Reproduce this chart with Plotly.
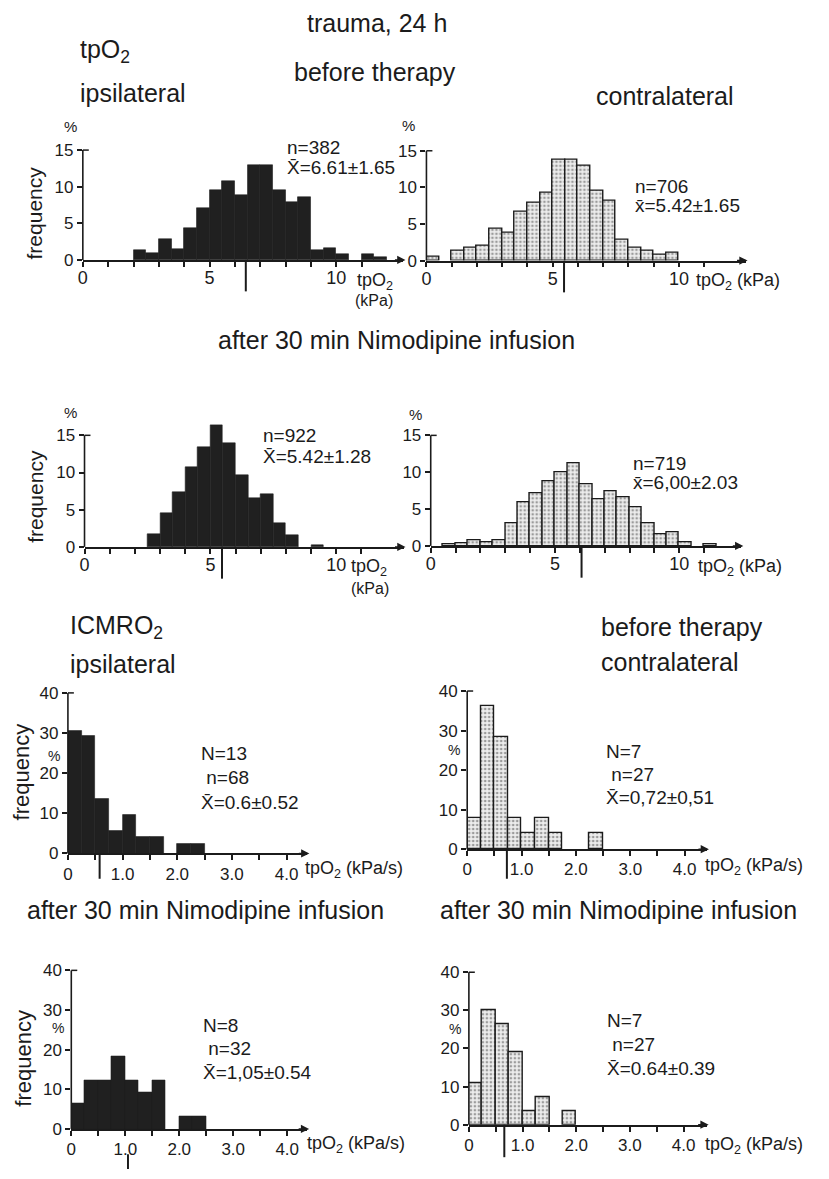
import plotly.graph_objects as go

W, H = 829, 1179
FONT = "Liberation Sans"
INK = "#1b1b1b"

# ---------------- data ----------------
# tpO2 histograms: bin lower edges (kPa, bin width 0.5) and frequency (%)
p1_edges = [2.0, 2.5, 3.0, 3.5, 4.0, 4.5, 5.0, 5.5, 6.0, 6.5, 7.0, 7.5, 8.0, 8.5, 9.0, 9.5, 10.0, 10.5, 11.0, 11.5]
p1_freq = [1.3, 0.9, 2.8, 1.5, 4.4, 7.1, 9.5, 10.7, 8.8, 13.0, 13.0, 9.5, 7.9, 8.6, 1.3, 1.6, 0.8, 0.0, 0.8, 0.4]

p2_edges = [0.0, 0.5, 1.0, 1.5, 2.0, 2.5, 3.0, 3.5, 4.0, 4.5, 5.0, 5.5, 6.0, 6.5, 7.0, 7.5, 8.0, 8.5, 9.0, 9.5]
p2_freq = [0.5, 0.0, 1.3, 1.8, 2.0, 4.4, 3.8, 6.7, 7.9, 9.3, 13.8, 13.8, 12.9, 9.6, 8.2, 2.9, 1.8, 1.3, 0.8, 1.0]

p3_edges = [2.5, 3.0, 3.5, 4.0, 4.5, 5.0, 5.5, 6.0, 6.5, 7.0, 7.5, 8.0, 8.5, 9.0]
p3_freq = [1.7, 4.5, 7.3, 10.7, 13.4, 16.3, 13.9, 9.7, 6.5, 7.1, 3.2, 1.6, 0.0, 0.2]

p4_edges = [0.5, 1.0, 1.5, 2.0, 2.5, 3.0, 3.5, 4.0, 4.5, 5.0, 5.5, 6.0, 6.5, 7.0, 7.5, 8.0, 8.5, 9.0, 9.5, 10.0, 10.5, 11.0]
p4_freq = [0.2, 0.3, 0.8, 0.5, 0.7, 3.0, 5.9, 7.1, 8.8, 10.0, 11.2, 8.4, 6.3, 7.4, 6.6, 5.3, 3.1, 1.6, 1.9, 0.5, 0.0, 0.2]

# ICMRO2 histograms: bin lower edges (kPa/s, bin width 0.25) and frequency (%)
p5_edges = [0.0, 0.25, 0.5, 0.75, 1.0, 1.25, 1.5, 1.75, 2.0, 2.25]
p5_freq = [30.5, 29.2, 13.5, 5.7, 9.6, 4.2, 4.2, 0.0, 2.3, 2.3]

p6_edges = [0.0, 0.25, 0.5, 0.75, 1.0, 1.25, 1.5, 1.75, 2.0, 2.25]
p6_freq = [7.9, 36.1, 28.4, 7.9, 4.1, 7.9, 4.1, 0.0, 0.0, 4.1]

p7_edges = [0.0, 0.25, 0.5, 0.75, 1.0, 1.25, 1.5, 1.75, 2.0, 2.25]
p7_freq = [6.4, 12.2, 12.2, 18.4, 12.2, 9.3, 12.2, 0.0, 3.1, 3.1]

p8_edges = [0.0, 0.25, 0.5, 0.75, 1.0, 1.25, 1.5, 1.75]
p8_freq = [10.8, 30.1, 26.4, 18.9, 3.6, 7.3, 0.0, 3.6]

# position of the mean marker drawn under each x axis
mean_marks = [6.43, 5.45, 5.46, 6.07, 0.58, 0.73, 1.05, 0.66]

stat_texts = [
    ["n=382", "X̄=6.61±1.65"],
    ["n=706", "x̄=5.42±1.65"],
    ["n=922", "X̄=5.42±1.28"],
    ["n=719", "x̄=6,00±2.03"],
    ["N=13", " n=68", "X̄=0.6±0.52"],
    ["N=7", " n=27", "X̄=0,72±0,51"],
    ["N=8", " n=32", "X̄=1,05±0.54"],
    ["N=7", " n=27", "X̄=0.64±0.39"],
]

tp_tickvals = [0, 1, 2, 3, 4, 5, 6, 7, 8, 9, 10, 11]
tp_ticktext = ["0", "", "", "", "", "5", "", "", "", "", "10", ""]
cm_tickvals = [0, 0.5, 1.0, 1.5, 2.0, 2.5, 3.0, 3.5, 4.0]
cm_ticktext = ["0", "", "1.0", "", "2.0", "", "3.0", "", "4.0"]
tp_yticks = [0, 5, 10, 15]
cm_yticks = [0, 10, 20, 30, 40]

# ---------------- geometry (pixels) ----------------
panels = [
    dict(edges=p1_edges, freq=p1_freq, bw=0.5, ipsi=True, x0=78.3, xs=25.5, xmax=12.65, y0=255.0, ys=7.44,
         ymax=16.5, ytop=15, m=(255, 287), stat=(282, 145, 20)),
    dict(edges=p2_edges, freq=p2_freq, bw=0.5, ipsi=False, x0=424.0, xs=25.4, xmax=12.64, y0=255.7, ys=7.44,
         ymax=16.5, ytop=15, m=(256, 288), stat=(632, 184, 20)),
    dict(edges=p3_edges, freq=p3_freq, bw=0.5, ipsi=True, x0=80.0, xs=25.33, xmax=12.67, y0=546.7, ys=7.56,
         ymax=16.5, ytop=15, m=(547, 579), stat=(258, 437, 22)),
    dict(edges=p4_edges, freq=p4_freq, bw=0.5, ipsi=False, x0=428.3, xs=25.0, xmax=12.5, y0=545.7, ys=7.49,
         ymax=16.5, ytop=15, m=(546, 578), stat=(630, 466, 19)),
    dict(edges=p5_edges, freq=p5_freq, bw=0.25, ipsi=True, x0=63.3, xs=55.0, xmax=4.38, y0=858.3, ys=4.08,
         ymax=40, ytop=40, m=(858, 884), stat=(195, 761, 24.5)),
    dict(edges=p6_edges, freq=p6_freq, bw=0.25, ipsi=False, x0=465.0, xs=54.7, xmax=4.41, y0=854.0, ys=4.02,
         ymax=40, ytop=40, m=(854, 884), stat=(603, 759, 23)),
    dict(edges=p7_edges, freq=p7_freq, bw=0.25, ipsi=True, x0=66.7, xs=54.3, xmax=4.37, y0=1138.3, ys=4.03,
         ymax=40, ytop=40, m=(1164, 1179), stat=(197, 1037, 24)),
    dict(edges=p8_edges, freq=p8_freq, bw=0.25, ipsi=False, x0=466.7, xs=54.0, xmax=4.43, y0=1134.0, ys=3.875,
         ymax=40, ytop=40, m=(1134, 1167), stat=(604, 1032, 24.5)),
]

DY = -4  # optical correction: annotation box centre vs glyph centre


def PX(px):
    return px / W


def PY(py):
    return 1 - py / H


fig = go.Figure()
layout = dict(
    width=W, height=H, margin=dict(l=0, r=0, t=0, b=0),
    paper_bgcolor="white", plot_bgcolor="rgba(0,0,0,0)",
    showlegend=False, font=dict(family=FONT, color=INK),
    bargap=0,
)
shapes = []
annotations = []

for i, p in enumerate(panels, start=1):
    xa = "x" if i == 1 else f"x{i}"
    ya = "y" if i == 1 else f"y{i}"
    vals = [(e + p["bw"] / 2, f) for e, f in zip(p["edges"], p["freq"]) if f > 0]
    xs_ = [v[0] for v in vals]
    ys_ = [v[1] for v in vals]
    if p["ipsi"]:
        marker = dict(color="#202020", line=dict(color="#202020", width=0.6))
    else:
        marker = dict(color="#e9e9e9",
                      pattern=dict(shape=".", fgcolor="#4a4a4a", bgcolor="#ededed", size=4, solidity=0.35),
                      line=dict(color=INK, width=1.4))
    fig.add_trace(go.Bar(x=xs_, y=ys_, width=[p["bw"]] * len(xs_), marker=marker,
                         xaxis=xa, yaxis=ya, hoverinfo="skip"))

    tp = i <= 4
    xdom = [PX(p["x0"]), PX(p["x0"] + p["xmax"] * p["xs"])]
    ydom = [PY(p["y0"]), PY(p["y0"] - p["ymax"] * p["ys"])]
    layout["xaxis" if i == 1 else f"xaxis{i}"] = dict(
        domain=xdom, range=[0, p["xmax"]], anchor=ya, showgrid=False, zeroline=False,
        showline=True, linecolor=INK, linewidth=1.6,
        ticks="outside", ticklen=5, tickwidth=1.5, tickcolor=INK,
        tickvals=tp_tickvals if tp else cm_tickvals,
        ticktext=tp_ticktext if tp else cm_ticktext,
        tickfont=dict(size=18 if tp else 17, family=FONT, color=INK),
        ticklabelstandoff=-4 if tp else -1, fixedrange=True,
    )
    layout["yaxis" if i == 1 else f"yaxis{i}"] = dict(
        domain=ydom, range=[0, p["ymax"]], anchor=xa, showgrid=False, zeroline=False,
        showline=False, ticks="outside", ticklen=5, tickwidth=1.5, tickcolor=INK,
        tickvals=tp_yticks if tp else cm_yticks,
        tickfont=dict(size=17, family=FONT, color=INK), ticklabelstandoff=0, fixedrange=True,
    )
    # y axis line (up to the top tick) and its small corner
    ytop_px = p["y0"] - p["ytop"] * p["ys"]
    shapes.append(dict(type="line", xref="paper", yref="paper",
                       x0=PX(p["x0"]), x1=PX(p["x0"]), y0=PY(p["y0"]), y1=PY(ytop_px),
                       line=dict(color=INK, width=1.6)))
    shapes.append(dict(type="line", xref="paper", yref="paper",
                       x0=PX(p["x0"]), x1=PX(p["x0"] + 6), y0=PY(ytop_px), y1=PY(ytop_px),
                       line=dict(color=INK, width=1.5)))
    # mean marker
    mx = p["x0"] + mean_marks[i - 1] * p["xs"]
    shapes.append(dict(type="line", xref="paper", yref="paper",
                       x0=PX(mx), x1=PX(mx), y0=PY(p["m"][0]), y1=PY(p["m"][1]),
                       line=dict(color=INK, width=2)))
    # arrow at end of x axis
    tipx = p["x0"] + p["xmax"] * p["xs"]
    annotations.append(dict(x=PX(tipx + 2), y=PY(p["y0"]), xref="paper", yref="paper",
                            ax=-12, ay=0, axref="pixel", ayref="pixel", text="",
                            showarrow=True, arrowhead=2, arrowsize=1.1, arrowwidth=1.5,
                            arrowcolor=INK))
    # statistics text
    sx, sy, dy = p["stat"]
    for k, t in enumerate(stat_texts[i - 1]):
        annotations.append(dict(x=PX(sx), y=PY(sy + k * dy + DY), xref="paper", yref="paper",
                                text=t, showarrow=False, xanchor="left", yanchor="middle",
                                font=dict(size=19, family=FONT, color=INK)))


def txt(t, x, y, size=18, xanchor="left", angle=0):
    annotations.append(dict(x=PX(x), y=PY(y + (DY if angle == 0 else 0)), xref="paper", yref="paper",
                            text=t, showarrow=False, xanchor=xanchor, yanchor="middle",
                            textangle=angle, font=dict(size=size, family=FONT, color=INK)))


TS = 25
# titles
txt("trauma, 24 h", 374, 18, TS, "center")
txt("tpO<sub>2</sub>", 73, 47, TS)
txt("before therapy", 289, 68, TS)
txt("ipsilateral", 73, 89, TS)
txt("contralateral", 593, 92, TS)
txt("after 30 min Nimodipine infusion", 394, 340, TS, "center")
txt("ICMRO<sub>2</sub>", 63, 632, TS)
txt("before therapy", 598, 632, TS)
txt("ipsilateral", 63, 670, TS)
txt("contralateral", 598, 668, TS)
txt("after 30 min Nimodipine infusion", 20, 920, TS)
txt("after 30 min Nimodipine infusion", 436, 920, TS)

# y axis labels
txt("%", 66, 123, 15, "center")
txt("%", 406, 122, 15, "center")
txt("%", 66, 414, 15, "center")
txt("%", 413, 416, 15, "center")
txt("%", 49, 763, 14, "center")
txt("%", 452, 757, 14, "center")
txt("%", 53, 1040, 14, "center")
txt("%", 453, 1041, 14, "center")
txt("frequency", 30, 207, 21, "center", -90)
txt("frequency", 30, 495, 21, "center", -90)
txt("frequency", 17, 775, 22, "center", -90)
txt("frequency", 19, 1066, 22, "center", -90)

# x axis unit labels
txt("tpO<sub>2</sub>", 352, 281, 18)
txt("(kPa)", 350, 300, 16)
txt("tpO<sub>2</sub> (kPa)", 693, 281, 18)
txt("tpO<sub>2</sub>", 346, 572, 18)
txt("(kPa)", 346, 593, 16)
txt("tpO<sub>2</sub> (kPa)", 695, 572, 18)
txt("tpO<sub>2</sub> (kPa/s)", 300, 879, 18)
txt("tpO<sub>2</sub> (kPa/s)", 702, 876, 18)
txt("tpO<sub>2</sub> (kPa/s)", 302, 1158, 18)
txt("tpO<sub>2</sub> (kPa/s)", 702, 1159, 18)

layout["shapes"] = shapes
layout["annotations"] = annotations
fig.update_layout(**layout)
fig.write_html("out.html")
